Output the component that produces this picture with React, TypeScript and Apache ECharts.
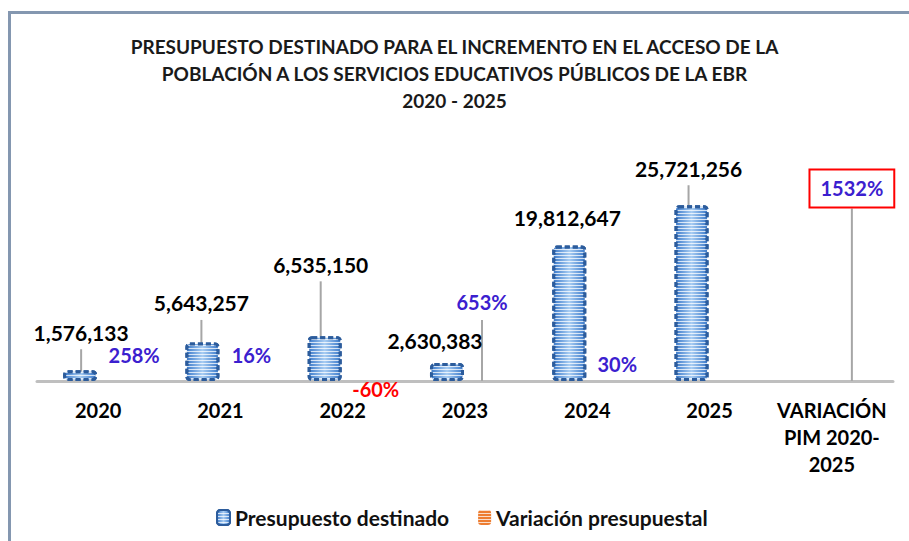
import React, { useEffect, useRef } from "react";
import * as echarts from "echarts";

const categories = ["2020", "2021", "2022", "2023", "2024", "2025", "VARIACIÓN\nPIM 2020-\n2025"];
const presupuesto = [1576133, 5643257, 6535150, 2630383, 19812647, 25721256, null];
const variacion = [2.58, 0.16, -0.6, 6.53, 0.3, null, 15.32];
const variacionLabels = ["258%", "16%", "-60%", "653%", "30%", "", "1532%"];

// label layout (pixel offsets), styling only
const valueOffsets = [[1, -16], [-1, -17.5], [-4, -50], [-12, -8], [-2, -13], [-3, -15]];
const valueLines = [true, true, true, false, false, true];
const varOffsets = [[18, -11], [13, -11], [15, 23], [-1, -56], [12, -2], [0, 0], [2, -169.5]];
const varLines = [false, false, false, true, false, false, true];

const FONT = "Lato, 'Noto Sans', sans-serif";
const PURPLE = "#3b20cf";

export default function App() {
  const ref = useRef<HTMLDivElement>(null);
  useEffect(() => {
    if (!ref.current) return;
    const chart = echarts.init(ref.current, null, { renderer: "svg" });
    const blueFill = new echarts.graphic.LinearGradient(0, 0, 1, 0, [
      { offset: 0, color: "#3e7ccb" },
      { offset: 0.5, color: "#a8cdf3" },
      { offset: 1, color: "#3e7ccb" },
    ]);
    const orangeFill = "#ed7d31";
    const decal = {
      symbol: "rect",
      symbolSize: 1,
      dashArrayX: [1, 0],
      dashArrayY: [1, 2],
      rotation: 0,
      color: "rgba(255,255,255,0.75)",
    };
    const presData = presupuesto.map((v, i) =>
      v == null
        ? null
        : {
            value: v,
            label: { padding: valueLines[i] ? [0, 0, 7, 0] : 0 },
            labelLine: { show: valueLines[i] },
          }
    );
    const varData = variacion.map((v, i) =>
      v == null
        ? null
        : {
            value: v,
            label:
              i === 6
                ? {
                    padding: [8, 10],
                    borderColor: "#ff0000",
                    borderWidth: 2,
                    backgroundColor: "#ffffff",
                    color: PURPLE,
                  }
                : {
                    padding: varLines[i] ? [0, 0, 8, 0] : 0,
                    color: v < 0 ? "#ff0000" : PURPLE,
                  },
            labelLine: { show: varLines[i] },
          }
    );
    chart.setOption({
      animation: false,
      backgroundColor: "#ffffff",
      title: {
        text: "PRESUPUESTO DESTINADO PARA EL INCREMENTO EN EL ACCESO DE LA\nPOBLACIÓN A LOS SERVICIOS EDUCATIVOS PÚBLICOS DE LA EBR\n2020 - 2025",
        left: "center",
        top: 28,
        textStyle: {
          fontFamily: FONT,
          fontSize: 19,
          fontWeight: "bold",
          color: "#1a1a1a",
          lineHeight: 27,
        },
      },
      graphic: [
        { type: "line", shape: { x1: 8, y1: 12.5, x2: 909, y2: 12.5 }, style: { stroke: "#8497b0", lineWidth: 3 } },
        { type: "line", shape: { x1: 9.5, y1: 11, x2: 9.5, y2: 541 }, style: { stroke: "#8497b0", lineWidth: 3 } },
      ],
      legend: {
        left: 211,
        top: 502,
        itemWidth: 13,
        itemHeight: 15,
        itemGap: 29,
        textStyle: { fontFamily: FONT, fontSize: 21, fontWeight: "bold", color: "#111" },
        data: ["Presupuesto destinado", "Variación presupuestal"],
      },
      grid: { left: 37, right: 16, top: 176, bottom: 160 },
      xAxis: {
        type: "category",
        data: categories,
        axisLine: { lineStyle: { color: "#bfbfbf", width: 3 } },
        axisTick: { show: false },
        axisLabel: {
          interval: 0,
          margin: 15,
          fontFamily: FONT,
          fontSize: 20,
          fontWeight: "bold",
          color: "#000",
          lineHeight: 27,
        },
      },
      yAxis: { type: "value", min: -1, max: 30000000, show: false, splitLine: { show: false } },
      series: [
        {
          name: "Presupuesto destinado",
          type: "bar",
          data: presData,
          barWidth: 34,
          barGap: "6%",
          itemStyle: {
            color: blueFill,
            borderColor: "#2c5c9c",
            borderWidth: 3,
            borderType: [5, 3],
            borderRadius: 3,
            decal,
          },
          label: {
            show: true,
            position: "top",
            distance: 5,
            fontFamily: FONT,
            fontSize: 21,
            lineHeight: 20,
            fontWeight: "bold",
            color: "#000",
            formatter: (p: any) => Number(p.value).toLocaleString("en-US"),
          },
          labelLine: { show: false, lineStyle: { color: "#a6a6a6", width: 2 } },
          labelLayout: (p: any) => ({ dx: valueOffsets[p.dataIndex][0], dy: valueOffsets[p.dataIndex][1] }),
        },
        {
          name: "Variación presupuestal",
          type: "bar",
          data: varData,
          barWidth: 34,
          itemStyle: { color: orangeFill, decal },
          label: {
            show: true,
            position: "top",
            distance: 5,
            fontFamily: FONT,
            fontSize: 20,
            lineHeight: 20,
            fontWeight: "bold",
            color: PURPLE,
            formatter: (p: any) => variacionLabels[p.dataIndex],
          },
          labelLine: { show: false, lineStyle: { color: "#a6a6a6", width: 2 } },
          labelLayout: (p: any) => ({ dx: varOffsets[p.dataIndex][0], dy: varOffsets[p.dataIndex][1] }),
        },
      ],
    });
    return () => chart.dispose();
  }, []);
  return (
    <div
      ref={ref}
      style={{ position: "fixed", left: 0, top: 0, width: 909, height: 541 }}
    />
  );
}
